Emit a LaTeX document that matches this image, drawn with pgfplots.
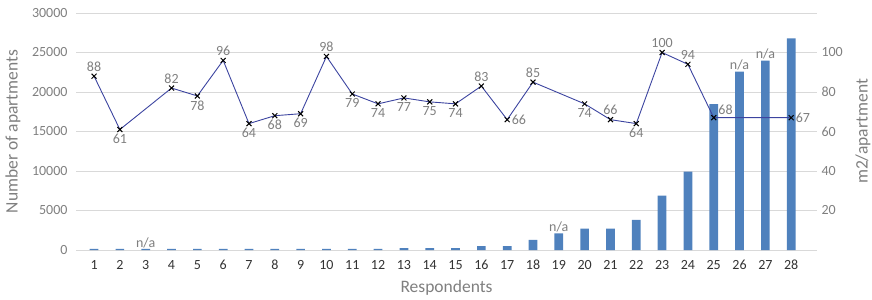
\documentclass[border=0pt]{standalone}
\usepackage{pgfplots}
\pgfplotsset{compat=1.18}
\usepackage{fontspec}
\setmainfont{Carlito}
\definecolor{barblue}{HTML}{4F81BD}
\definecolor{linenavy}{HTML}{3C44A0}
\definecolor{txtgrey}{HTML}{7F7F7F}
\definecolor{tickdark}{HTML}{333333}
\definecolor{gridgrey}{HTML}{D9D9D9}
\newcommand{\fs}{\fontsize{14bp}{16bp}\selectfont}
\newcommand{\fl}{\fontsize{17.5bp}{20bp}\selectfont}
\begin{document}
\begin{tikzpicture}[font=\fs]
\useasboundingbox (0,0) rectangle (872bp,300bp);
\pgfplotsset{every axis/.append style={
  tick label style={font=\fs},
  label style={font=\fl},
  scaled ticks=false,
  /pgf/number format/assume math mode=true,
  /pgf/number format/1000 sep={},
}}
\begin{axis}[
  at={(76bp,50bp)}, anchor=south west,
  width=741bp, height=237bp, scale only axis,
  xmin=0.3, xmax=29, ymin=0, ymax=30000,
  xtick={1,...,28}, ytick={0,5000,...,30000},
  axis x line*=bottom, axis y line*=left,
  y axis line style={draw=none},
  x axis line style={draw=gridgrey, line width=0.8bp},
  major tick length=0pt,
  ymajorgrids, grid style={gridgrey, line width=0.8bp},
  yticklabel style={text=txtgrey, anchor=east, xshift=-5bp},
  xticklabel style={text=tickdark, anchor=base, yshift=-19.5bp},
  xlabel={Respondents}, ylabel={Number of apartments},
  xlabel style={text=txtgrey, at={(rel axis cs:0.5,0)}, anchor=center, yshift=-38bp},
  ylabel style={text=txtgrey, at={(rel axis cs:0,0.5)}, anchor=center, yshift=63bp},
  ybar, bar width=8.7bp,
  clip=false,
]
\addplot[fill=barblue, draw=none] coordinates {
(1,130) (2,130) (3,130) (4,130) (5,130) (6,130) (7,130) (8,130) (9,130) (10,130)
(11,130) (12,130) (13,250) (14,250) (15,250) (16,500) (17,500) (18,1270) (19,2110) (20,2700)
(21,2700) (22,3800) (23,6880) (24,9910) (25,18480) (26,22570) (27,23960) (28,26800)
};
\node[text=txtgrey, anchor=south, inner sep=1bp] at (axis cs:3,130) {n/a};
\node[text=txtgrey, anchor=south, inner sep=1bp] at (axis cs:19,2110) {n/a};
\node[text=txtgrey, anchor=south, inner sep=1bp] at (axis cs:26,22570) {n/a};
\node[text=txtgrey, anchor=south, inner sep=1bp] at (axis cs:27,23960) {n/a};
\end{axis}
\begin{axis}[
  at={(76bp,50bp)}, anchor=south west,
  width=741bp, height=237bp, scale only axis,
  xmin=0.3, xmax=29, ymin=0, ymax=120,
  ytick={20,40,...,100},
  axis y line*=right, hide x axis,
  y axis line style={draw=none},
  major tick length=0pt,
  yticklabel style={text=txtgrey, anchor=west, xshift=1bp},
  ylabel={m2/apartment},
  ylabel style={text=txtgrey, at={(rel axis cs:1,0.5)}, anchor=center, rotate=0, yshift=-46bp},
  clip=false,
]
\addplot[linenavy, line width=0.9bp, mark=x, mark size=3.5bp, mark options={black, line width=1bp}] coordinates {
(1,88) (2,61) (4,82) (5,78) (6,96) (7,64) (8,68) (9,69) (10,98) (11,79) (12,74) (13,77)
(14,75) (15,74) (16,83) (17,66) (18,85) (20,74) (21,66) (22,64) (23,100) (24,94) (25,67) (28,67)
};
\begin{scope}[every node/.style={text=txtgrey, inner sep=4.5bp, font=\fs}]
\node[anchor=south] at (axis cs:1,88) {88};
\node[anchor=north] at (axis cs:2,61) {61};
\node[anchor=south] at (axis cs:4,82) {82};
\node[anchor=north] at (axis cs:5,78) {78};
\node[anchor=south] at (axis cs:6,96) {96};
\node[anchor=north] at (axis cs:7,64) {64};
\node[anchor=north] at (axis cs:8,68) {68};
\node[anchor=north] at (axis cs:9,69) {69};
\node[anchor=south] at (axis cs:10,98) {98};
\node[anchor=north] at (axis cs:11,79) {79};
\node[anchor=north] at (axis cs:12,74) {74};
\node[anchor=north] at (axis cs:13,77) {77};
\node[anchor=north] at (axis cs:14,75) {75};
\node[anchor=north] at (axis cs:15,74) {74};
\node[anchor=south] at (axis cs:16,83) {83};
\node[anchor=west] at (axis cs:17,66) {66};
\node[anchor=south] at (axis cs:18,85) {85};
\node[anchor=north] at (axis cs:20,74) {74};
\node[anchor=south] at (axis cs:21,66) {66};
\node[anchor=north] at (axis cs:22,64) {64};
\node[anchor=south] at (axis cs:23,100) {100};
\node[anchor=south] at (axis cs:24,94) {94};
\node[anchor=west, yshift=8bp] at (axis cs:25,67) {68};
\node[anchor=west] at (axis cs:28,67) {67};
\end{scope}
\end{axis}
\end{tikzpicture}
\end{document}
